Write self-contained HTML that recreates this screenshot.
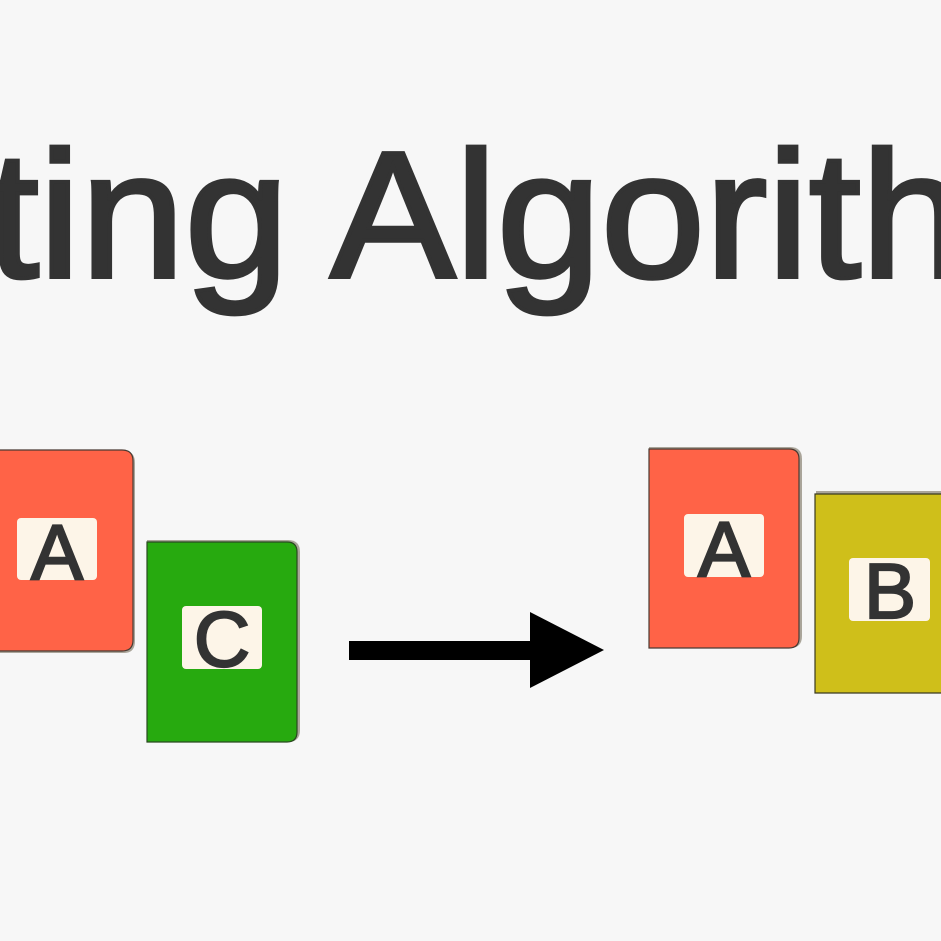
<!DOCTYPE html>
<html><head><meta charset="utf-8"><style>
html,body{margin:0;padding:0;background:#f7f7f7;}
svg{display:block}
</style></head><body>
<svg width="941" height="941" viewBox="0 0 941 941" xmlns="http://www.w3.org/2000/svg">
<rect width="941" height="941" fill="#f7f7f7"/>
<text x="-13" y="277" font-family="Liberation Sans, sans-serif" font-size="180" fill="#333" stroke="#333" stroke-width="4" textLength="978" lengthAdjust="spacingAndGlyphs">ting Algorith</text>

<!-- left A card -->
<path d="M-10 451 H124 Q135 451 135 463 V641 Q135 653 124 653 H-10 Z" fill="#aaa59a"/>
<path d="M-10 450 H122 Q133 450 133 461 V640 Q133 651 122 651 H-10 Z" fill="#ff6347" stroke="#4a3a32" stroke-width="1.2"/>
<rect x="17" y="518" width="80" height="62" rx="4" fill="#fdf5e8"/>
<text x="57" y="579" text-anchor="middle" font-family="Liberation Sans, sans-serif" font-size="78" fill="#333" stroke="#333" stroke-width="2.2">A</text>

<!-- C card -->
<path d="M147 540 H288 Q300 540 300 552 V730 Q300 742 288 742 H147 Z" fill="#aaa59a"/>
<path d="M147 542 H287 Q297 542 297 552 V732 Q297 742 287 742 H147 Z" fill="#27aa0f" stroke="#2a4a20" stroke-width="1.2"/>
<rect x="182" y="606" width="80" height="63" rx="4" fill="#fdf5e8"/>
<text x="222" y="666" text-anchor="middle" font-family="Liberation Sans, sans-serif" font-size="78" fill="#333" stroke="#333" stroke-width="2.2">C</text>

<!-- arrow -->
<rect x="349" y="641" width="185" height="19" fill="#000"/>
<polygon points="530,612 604,650 530,688" fill="#000"/>

<!-- right A card -->
<path d="M649 447 H790 Q802 447 802 459 V636 Q802 648 790 648 H649 Z" fill="#aaa59a"/>
<path d="M649 449 H789 Q799 449 799 459 V638 Q799 648 789 648 H649 Z" fill="#ff6347" stroke="#4a3a32" stroke-width="1.2"/>
<rect x="684" y="514" width="80" height="63" rx="4" fill="#fdf5e8"/>
<text x="724" y="576" text-anchor="middle" font-family="Liberation Sans, sans-serif" font-size="78" fill="#333" stroke="#333" stroke-width="2.2">A</text>

<!-- B card -->
<path d="M816 491 H950 V693 H816 Z" fill="#aaa59a"/>
<path d="M815 494 H950 V693 H815 Z" fill="#cfbf1a" stroke="#3a3a20" stroke-width="1.2"/>
<rect x="849" y="558" width="81" height="63" rx="4" fill="#fdf5e8"/>
<text x="890" y="618" text-anchor="middle" font-family="Liberation Sans, sans-serif" font-size="78" fill="#333" stroke="#333" stroke-width="2.2">B</text>
</svg>
</body></html>
